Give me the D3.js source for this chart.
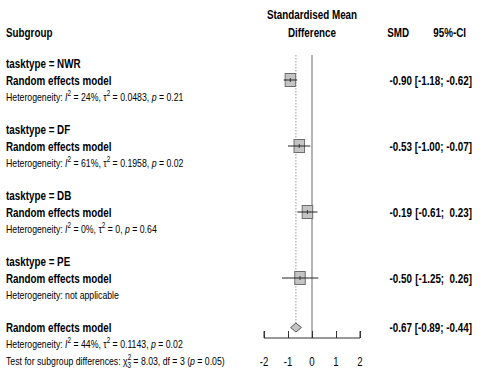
<!DOCTYPE html>
<html><head><meta charset="utf-8">
<script src="https://cdn.jsdelivr.net/npm/d3@7"></script>
<style>
html,body{margin:0;padding:0;background:#fff;}
svg text{font-family:"Liberation Sans",Arial,sans-serif;fill:#000;white-space:pre;}
</style></head>
<body>
<svg id="c" width="487" height="380"></svg>
<script>
const subgroups = ["NWR", "DF", "DB", "PE"];
const smd = [-0.90, -0.53, -0.19, -0.50];
const lower = [-1.18, -1.00, -0.61, -1.25];
const upper = [-0.62, -0.07, 0.23, 0.26];
const hetI2 = ["24%", "61%", "0%", null];
const hetTau2 = ["0.0483", "0.1958", "0", null];
const hetP = ["0.21", "0.02", "0.64", null];
const overall = {smd: -0.67, lower: -0.89, upper: -0.44, i2: "44%", tau2: "0.1143", p: "0.02"};
const subgroupTest = {chi2: "8.03", df: "3", p: "0.05"};
const ticks = [-2, -1, 0, 1, 2];

const svg = d3.select("#c");
const x = d3.scaleLinear().domain([-2, 2]).range([264, 360]);
const rowH = 16.5, row0 = 63.5;
const ry = i => row0 + rowH * i;
const SX = 0.74;
const fmt = v => (v < 0 ? "-" : "") + Math.abs(v).toFixed(2);
const fmtCI = (l, u) => {
  const pad = v => (v < 0 ? "" : " ") + fmt(v);
  return "[" + fmt(l) + "; " + pad(u) + "]";
};
// narrow text helper: compress glyphs horizontally around anchor point
function ntext(px, py, size, bold, anchor) {
  return svg.append("text")
    .attr("transform", `translate(${px},${py}) scale(${SX},1)`)
    .attr("font-size", size)
    .attr("font-weight", bold ? "bold" : "normal")
    .attr("text-anchor", anchor || "start");
}
const BS = 13.3, SS = 11.8;
const BO = 4.8, SO = 4.2;

// headers
ntext(6, 37, BS, true).text("Subgroup");
ntext(312, 19, BS, true, "middle").text("Standardised Mean");
ntext(312, 37, BS, true, "middle").text("Difference");
ntext(409, 37, BS, true, "end").text("SMD");
ntext(466, 37, BS, true, "end").text("95%-CI");

// reference lines
const lineTop = 55;
svg.append("line").attr("x1", x(0)).attr("x2", x(0)).attr("y1", lineTop).attr("y2", 338)
  .attr("stroke", "#8c8c8c").attr("stroke-width", 1.3);
svg.append("line").attr("x1", x(overall.smd)).attr("x2", x(overall.smd)).attr("y1", lineTop).attr("y2", ry(16) - 4)
  .attr("stroke", "#9a9a9a").attr("stroke-width", 1).attr("stroke-dasharray", "1.5,1.5");

function hetText(yy, i2, tau2, p) {
  const t = ntext(6, yy, SS, false);
  t.append("tspan").text("Heterogeneity: ");
  t.append("tspan").attr("font-style", "italic").text("I");
  t.append("tspan").attr("dy", -5).attr("font-size", 8.5).text("2");
  t.append("tspan").attr("dy", 5).text(" = " + i2 + ", \u03c4");
  t.append("tspan").attr("dy", -5).attr("font-size", 8.5).text("2");
  t.append("tspan").attr("dy", 5).text(" = " + tau2 + ", ");
  t.append("tspan").attr("font-style", "italic").text("p");
  t.append("tspan").text(" = " + p);
}

subgroups.forEach((s, k) => {
  const base = k * 4;
  ntext(6, ry(base) + BO, BS, true).text("tasktype = " + s);
  ntext(6, ry(base + 1) + BO, BS, true).text("Random effects model");
  if (hetI2[k] !== null) hetText(ry(base + 2) + SO, hetI2[k], hetTau2[k], hetP[k]);
  else ntext(6, ry(base + 2) + SO, SS, false).text("Heterogeneity: not applicable");

  const yy = ry(base + 1);
  const w = 10.5, h = 13;
  svg.append("rect").attr("x", x(smd[k]) - w / 2).attr("y", yy - h / 2).attr("width", w).attr("height", h)
    .attr("fill", "#c4c4c4").attr("stroke", "#6e6e6e").attr("stroke-width", 1);
  svg.append("line").attr("x1", x(lower[k])).attr("x2", x(upper[k])).attr("y1", yy).attr("y2", yy)
    .attr("stroke", "#222").attr("stroke-width", 1);
  svg.append("line").attr("x1", x(smd[k])).attr("x2", x(smd[k])).attr("y1", yy - 2).attr("y2", yy + 2)
    .attr("stroke", "#222").attr("stroke-width", 0.8);

  ntext(412, yy + BO, BS, true, "end").text(fmt(smd[k]));
  ntext(472, yy + BO, BS, true, "end").text(fmtCI(lower[k], upper[k]));
});

// overall
const oy = ry(16);
ntext(6, oy + BO, BS, true).text("Random effects model");
hetText(ry(17) + SO, overall.i2, overall.tau2, overall.p);
{
  const t = ntext(6, ry(18) + SO, SS, false);
  t.append("tspan").text("Test for subgroup differences: ");
  t.append("tspan").text("\u03c7");
  t.append("tspan").attr("dy", -5).attr("font-size", 8.5).text("2");
  t.append("tspan").attr("dx", -5).attr("dy", 8).attr("font-size", 8.5).text(subgroupTest.df);
  t.append("tspan").attr("dy", -3).text(" = " + subgroupTest.chi2 + ", df = " + subgroupTest.df + " (");
  t.append("tspan").attr("font-style", "italic").text("p");
  t.append("tspan").text(" = " + subgroupTest.p + ")");
}
const dh = 4.5;
svg.append("path")
  .attr("d", `M${x(overall.lower)},${oy} L${x(overall.smd)},${oy - dh} L${x(overall.upper)},${oy} L${x(overall.smd)},${oy + dh} Z`)
  .attr("fill", "#c4c4c4").attr("stroke", "#555").attr("stroke-width", 1);
ntext(412, oy + BO, BS, true, "end").text(fmt(overall.smd));
ntext(472, oy + BO, BS, true, "end").text(fmtCI(overall.lower, overall.upper));

// axis
const axisG = svg.append("g").attr("transform", "translate(0,338)");
axisG.call(d3.axisTop(x).tickValues(ticks).tickSize(7).tickFormat(() => ""));
axisG.select(".domain").attr("d", `M${x(-2)},-7V0H${x(2)}V-7`).attr("stroke", "#333");
axisG.selectAll(".tick line").attr("stroke", "#333");
ticks.forEach(d => {
  ntext(x(d), 366, 13, false, "middle").text(d < 0 ? "-" + Math.abs(d) : String(d));
});
</script>
</body></html>
